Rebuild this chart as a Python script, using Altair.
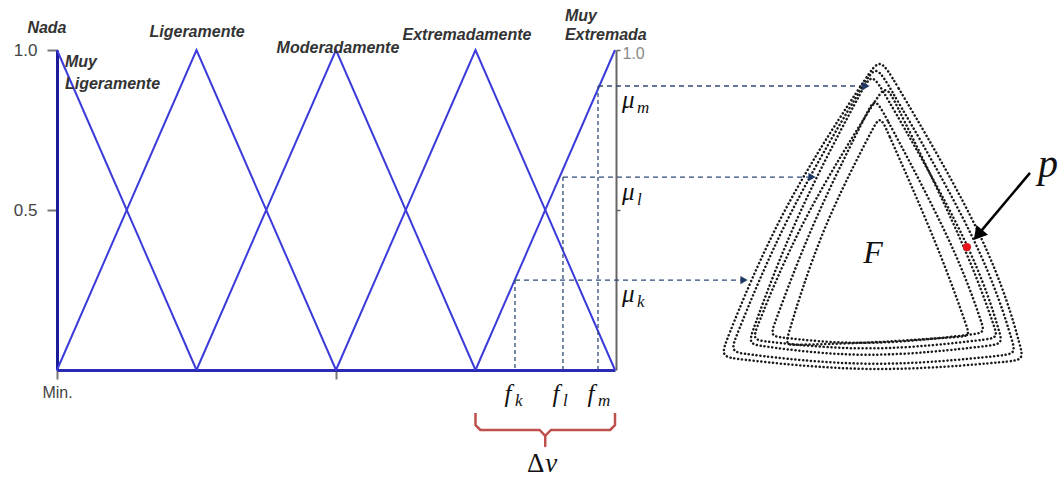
import altair as alt
import pandas as pd

# ---- membership functions on the [0, 4] universe (x = term vertices, y = degree) ----
mf_terms = ["Nada", "Ligeramente", "Moderadamente", "Extremadamente", "Muy Extremada"]
mf_x = [[0, 1], [0, 1, 2], [1, 2, 3], [2, 3, 4], [3, 4]]
mf_y = [[1, 0], [0, 1, 0], [0, 1, 0], [0, 1, 0], [0, 1]]

# term captions above the peaks
cap_center_text = ["Nada", "Ligeramente", "Moderadamente", "Extremadamente"]
cap_center_x = [-0.072, 1.004, 2.014, 2.939]
cap_center_y = [1.053, 1.041, 0.991, 1.031]
cap_left_text = ["Muy", "Extremada", "Muy", "Ligeramente"]
cap_left_x = [3.641, 3.641, 0.057, 0.057]
cap_left_y = [1.091, 1.031, 0.947, 0.878]

# three feature values f and their membership degrees mu on the last term
feat_sub = ["k", "l", "m"]
feat_f = [3.283, 3.627, 3.878]
feat_mu = [0.281, 0.603, 0.8875]
feat_arrow_x = [4.925, 5.412, 5.799]          # where each projection meets the contours
mu_label_x = [4.05, 4.05, 4.05]
mu_label_y = [0.2125, 0.531, 0.819]
f_label_y = [-0.10, -0.10, -0.10]

# brace under the last interval (Δv)
brace_x = [3.0, 3.0, 3.035, 3.46, 3.5, 3.5, 3.5, 3.54, 3.965, 4.0, 4.0]
brace_y = [-0.134, -0.172, -0.1875, -0.1875, -0.206, -0.2375, -0.206, -0.1875, -0.1875, -0.172, -0.134]
dv_x = [3.5]
dv_y = [-0.319]

# family of nested closed contours (top, right, bottom-right, bottom, bottom-left, left)
contour_x = [
    [5.900, 6.710, 6.932, 5.828, 4.753, 5.183],
    [5.871, 6.652, 6.875, 5.828, 4.824, 5.219],
    [5.842, 6.581, 6.781, 5.792, 4.953, 5.290],
    [5.943, 6.530, 6.746, 5.828, 4.982, 5.326],
    [5.864, 6.452, 6.652, 5.792, 5.111, 5.412],
    [5.900, 6.330, 6.545, 5.828, 5.219, 5.470],
]
contour_y = [
    [0.978, 0.384, 0.031, -0.013, 0.041, 0.509],
    [0.956, 0.375, 0.050, 0.003, 0.056, 0.484],
    [0.931, 0.375, 0.081, 0.031, 0.081, 0.484],
    [0.894, 0.375, 0.100, 0.053, 0.094, 0.469],
    [0.853, 0.375, 0.116, 0.072, 0.106, 0.463],
    [0.797, 0.375, 0.106, 0.084, 0.078, 0.438],
]
# spline control order: corners (0, 2, 4) are doubled to keep them fairly tight
contour_ctrl = [0, 0, 1, 2, 2, 3, 4, 4, 5]

# point p, its pointer arrow, and the region label F
p_x, p_y = [6.523], [0.384]
p_arrow_x, p_arrow_y, p_arrow_x2, p_arrow_y2 = [6.975], [0.616], [6.624], [0.434]
p_head_x, p_head_y = [6.602], [0.422]
p_label_x, p_label_y = [7.104], [0.603]
F_label_x, F_label_y = [5.849], [0.334]

# ---------------------------------------------------------------------------
SANS = "Liberation Sans"
SERIF = "Liberation Serif"
X_SCALE = alt.Scale(domain=[0, 4], nice=False, zero=False)
Y_SCALE = alt.Scale(domain=[0, 1], nice=False, zero=False)
DASH_COLOR = "#2e4a78"


def X(field, **kw):
    kw.setdefault("axis", None)
    return alt.X(field, type="quantitative", scale=X_SCALE, title=None, **kw)


def Y(field, **kw):
    kw.setdefault("axis", None)
    return alt.Y(field, type="quantitative", scale=Y_SCALE, title=None, **kw)


mf_df = pd.DataFrame(
    [
        {"term": t, "i": i, "x": x, "y": y}
        for t, xs, ys in zip(mf_terms, mf_x, mf_y)
        for i, (x, y) in enumerate(zip(xs, ys))
    ]
)
feat_df = pd.DataFrame(
    {
        "sub": feat_sub,
        "f": feat_f,
        "mu": feat_mu,
        "ax": feat_arrow_x,
        "zero": [0, 0, 0],
        "mlx": mu_label_x,
        "mly": mu_label_y,
        "fly": f_label_y,
        "mu_sym": ["μ"] * 3,
        "f_sym": ["f"] * 3,
    }
)
contour_df = pd.DataFrame(
    [
        {"c": c, "i": i, "x": xs[k], "y": ys[k]}
        for c, (xs, ys) in enumerate(zip(contour_x, contour_y))
        for i, k in enumerate(contour_ctrl)
    ]
)
brace_df = pd.DataFrame({"i": list(range(len(brace_x))), "x": brace_x, "y": brace_y})

# membership triangles, carrying the bottom and left axes
triangles = alt.Chart(mf_df).mark_line(color="#3b3bdc", strokeWidth=2).encode(
    x=X(
        "x",
        axis=alt.Axis(
            orient="bottom",
            values=[0, 2],
            labelExpr="datum.value == 0 ? 'Min.' : ''",
            domainColor="#2a2ab4",
            domainWidth=3,
            tickColor="#777777",
            tickWidth=2,
            tickSize=9,
            labelFont=SANS,
            labelFontSize=16,
            labelColor="#444444",
            labelPadding=5,
            labelFlush=False,
            grid=False,
        ),
    ),
    y=Y(
        "y",
        axis=alt.Axis(
            orient="left",
            values=[0.5, 1.0],
            format=".1f",
            domainColor="#1c1c9a",
            domainWidth=3,
            tickColor="#777777",
            tickWidth=2,
            tickSize=10,
            labelFont=SANS,
            labelFontSize=17,
            labelColor="#444444",
            labelPadding=10,
            grid=False,
        ),
    ),
    detail="term:N",
    order="i:Q",
)

# horizontal projections (these carry the right-hand axis)
h_dash = alt.Chart(feat_df).mark_rule(
    color=DASH_COLOR, strokeWidth=1.3, strokeDash=[5, 4]
).encode(
    x=X("f"),
    x2="ax",
    y=Y(
        "mu",
        axis=alt.Axis(
            orient="right",
            values=[0.5, 1.0],
            labelExpr="datum.value == 1 ? '1.0' : ''",
            domainColor="#666666",
            domainWidth=2,
            tickColor="#666666",
            tickWidth=1.5,
            tickSize=4,
            labelFont=SANS,
            labelFontSize=16,
            labelColor="#8a8a8a",
            labelPadding=2,
            labelOffset=3,
            offset=1,
            grid=False,
        ),
    ),
)
v_dash = alt.Chart(feat_df).mark_rule(
    color=DASH_COLOR, strokeWidth=1.3, strokeDash=[4, 3]
).encode(x=X("f"), y=Y("mu"), y2="zero")
arrowheads = alt.Chart(feat_df).mark_point(
    shape="triangle-right", filled=True, size=70, color="#1f3864", opacity=1
).encode(x=X("ax"), y=Y("mu"))

# term captions
caps_c = alt.Chart(
    pd.DataFrame({"t": cap_center_text, "x": cap_center_x, "y": cap_center_y})
).mark_text(
    font=SANS, fontSize=16, fontStyle="italic", fontWeight="bold",
    color="#333333", align="center", baseline="alphabetic",
).encode(x=X("x"), y=Y("y"), text="t:N")
caps_l = alt.Chart(
    pd.DataFrame({"t": cap_left_text, "x": cap_left_x, "y": cap_left_y})
).mark_text(
    font=SANS, fontSize=16, fontStyle="italic", fontWeight="bold",
    color="#333333", align="left", baseline="alphabetic",
).encode(x=X("x"), y=Y("y"), text="t:N")

# μ and f symbols with subscripts
mu_sym = alt.Chart(feat_df).mark_text(
    font=SERIF, fontSize=25, fontStyle="italic", color="#111111",
    align="left", baseline="alphabetic",
).encode(x=X("mlx"), y=Y("mly"), text="mu_sym:N")
mu_sub = alt.Chart(feat_df).mark_text(
    font=SERIF, fontSize=17, fontStyle="italic", color="#111111",
    align="left", baseline="alphabetic", dx=15, dy=5,
).encode(x=X("mlx"), y=Y("mly"), text="sub:N")
f_sym = alt.Chart(feat_df).mark_text(
    font=SERIF, fontSize=25, fontStyle="italic", color="#111111",
    align="center", baseline="alphabetic", dx=-7,
).encode(x=X("f"), y=Y("fly"), text="f_sym:N")
f_sub = alt.Chart(feat_df).mark_text(
    font=SERIF, fontSize=17, fontStyle="italic", color="#111111",
    align="left", baseline="alphabetic", dx=0, dy=4,
).encode(x=X("f"), y=Y("fly"), text="sub:N")

# brace and Δv
brace = alt.Chart(brace_df).mark_line(
    color="#c0504d", strokeWidth=2.5, strokeJoin="round"
).encode(x=X("x"), y=Y("y"), order="i:Q")
dv_df = pd.DataFrame({"x": dv_x, "y": dv_y, "d": ["Δ"], "v": ["v"]})
delta = alt.Chart(dv_df).mark_text(
    font=SERIF, fontSize=27, color="#111111", align="right", baseline="alphabetic", dx=-1
).encode(x=X("x"), y=Y("y"), text="d:N")
vee = alt.Chart(dv_df).mark_text(
    font=SERIF, fontSize=27, fontStyle="italic", color="#111111",
    align="left", baseline="alphabetic", dx=0,
).encode(x=X("x"), y=Y("y"), text="v:N")

# nested dotted contours
contours = alt.Chart(contour_df).mark_line(
    interpolate="basis-closed",
    strokeDash=[0.1, 3.8],
    strokeCap="round",
    strokeWidth=2.5,
    color="#1a1a1a",
).encode(x=X("x"), y=Y("y"), detail="c:N", order="i:Q")

p_dot = alt.Chart(pd.DataFrame({"x": p_x, "y": p_y})).mark_point(
    filled=True, color="#e8141c", size=70, opacity=1
).encode(x=X("x"), y=Y("y"))
p_shaft = alt.Chart(
    pd.DataFrame({"x": p_arrow_x, "y": p_arrow_y, "x2": p_arrow_x2, "y2": p_arrow_y2})
).mark_rule(color="#000000", strokeWidth=2.5).encode(
    x=X("x"), y=Y("y"), x2="x2", y2="y2"
)
p_head = alt.Chart(pd.DataFrame({"x": p_head_x, "y": p_head_y})).mark_point(
    shape="triangle-up", filled=True, size=230, angle=220, color="#000000", opacity=1
).encode(x=X("x"), y=Y("y"))
p_label = alt.Chart(pd.DataFrame({"x": p_label_x, "y": p_label_y, "t": ["p"]})).mark_text(
    font=SERIF, fontSize=40, fontStyle="italic", color="#111111",
    align="center", baseline="alphabetic",
).encode(x=X("x"), y=Y("y"), text="t:N")
F_label = alt.Chart(pd.DataFrame({"x": F_label_x, "y": F_label_y, "t": ["F"]})).mark_text(
    font=SERIF, fontSize=32, fontStyle="italic", color="#111111",
    align="center", baseline="alphabetic",
).encode(x=X("x"), y=Y("y"), text="t:N")

chart = (
    alt.layer(
        triangles, h_dash, contours, v_dash, arrowheads,
        caps_c, caps_l, mu_sym, mu_sub, f_sym, f_sub,
        brace, delta, vee, p_dot, p_shaft, p_head, p_label, F_label,
    )
    .resolve_axis(x="independent", y="independent")
    .properties(
        width=558,
        height=320,
        padding={"left": 57, "top": 50, "right": 446, "bottom": 110},
        autosize=alt.AutoSizeParams(type="none"),
        background="white",
    )
    .configure_view(stroke=None)
)

chart.save("out.html", embed_options={"renderer": "svg", "actions": False})
